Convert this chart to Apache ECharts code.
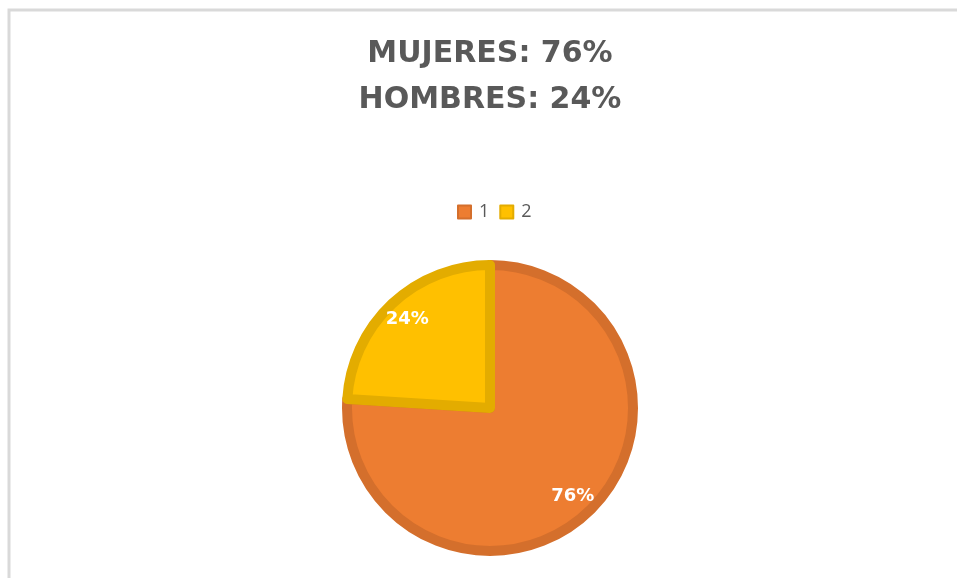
<!DOCTYPE html>
<html>
<head>
<meta charset="utf-8">
<script src="https://cdn.jsdelivr.net/npm/echarts@6/dist/echarts.min.js"></script>
<style>
  html, body { margin: 0; padding: 0; background: #fff; }
  #chart { width: 957px; height: 578px; }
</style>
</head>
<body>
<div id="chart"></div>
<script>
// datos del gráfico
var categorias = ['1', '2'];
var valores = [76, 24];
var colores = ['#ED7D31', '#FFC000'];
var bordes = ['#D46F2C', '#E3AC00'];
var titulo = 'MUJERES: 76%\nHOMBRES: 24%';

var chart = echarts.init(document.getElementById('chart'));

var datos = categorias.map(function (c, i) {
  return {
    name: c,
    value: valores[i],
    itemStyle: { color: colores[i], borderColor: bordes[i] }
  };
});

chart.setOption({
  animation: false,
  title: {
    text: titulo,
    left: 485,
    textAlign: 'center',
    top: 26,
    textStyle: {
      fontFamily: 'DejaVu Sans',
      fontWeight: 'bold',
      fontSize: 30,
      lineHeight: 46,
      color: '#595959'
    }
  },
  legend: {
    top: 203,
    left: 457,
    padding: 0,
    itemWidth: 13,
    itemHeight: 13,
    itemGap: 10,
    icon: 'rect',
    textStyle: { fontFamily: 'Open Sans', fontSize: 18, color: '#595959', padding: [0, 0, 0, 3] },
    data: categorias
  },
  graphic: [{
    type: 'polyline',
    shape: { points: [[9, 578], [9, 10], [957, 10]] },
    style: { stroke: '#D9D9D9', lineWidth: 3, fill: null }
  }],
  series: [
    {
      // tarta principal
      type: 'pie',
      center: [490, 408],
      radius: [0, 143],
      startAngle: 90,
      clockwise: true,
      itemStyle: { borderWidth: 10 },
      label: { show: false },
      labelLine: { show: false },
      emphasis: { disabled: true },
      data: datos
    },
    {
      // capa de etiquetas (sólo texto)
      type: 'pie',
      silent: true,
      center: [490, 408],
      radius: [88, 148],
      startAngle: 90,
      clockwise: true,
      legendHoverLink: false,
      itemStyle: { color: 'transparent', borderWidth: 0 },
      label: {
        show: true,
        position: 'inside',
        formatter: '{c}%',
        color: '#fff',
        fontFamily: 'DejaVu Sans',
        fontWeight: 'bold',
        fontSize: 18
      },
      labelLine: { show: false },
      emphasis: { disabled: true },
      data: categorias.map(function (c, i) { return { name: c, value: valores[i] }; })
    }
  ]
});
</script>
</body>
</html>
